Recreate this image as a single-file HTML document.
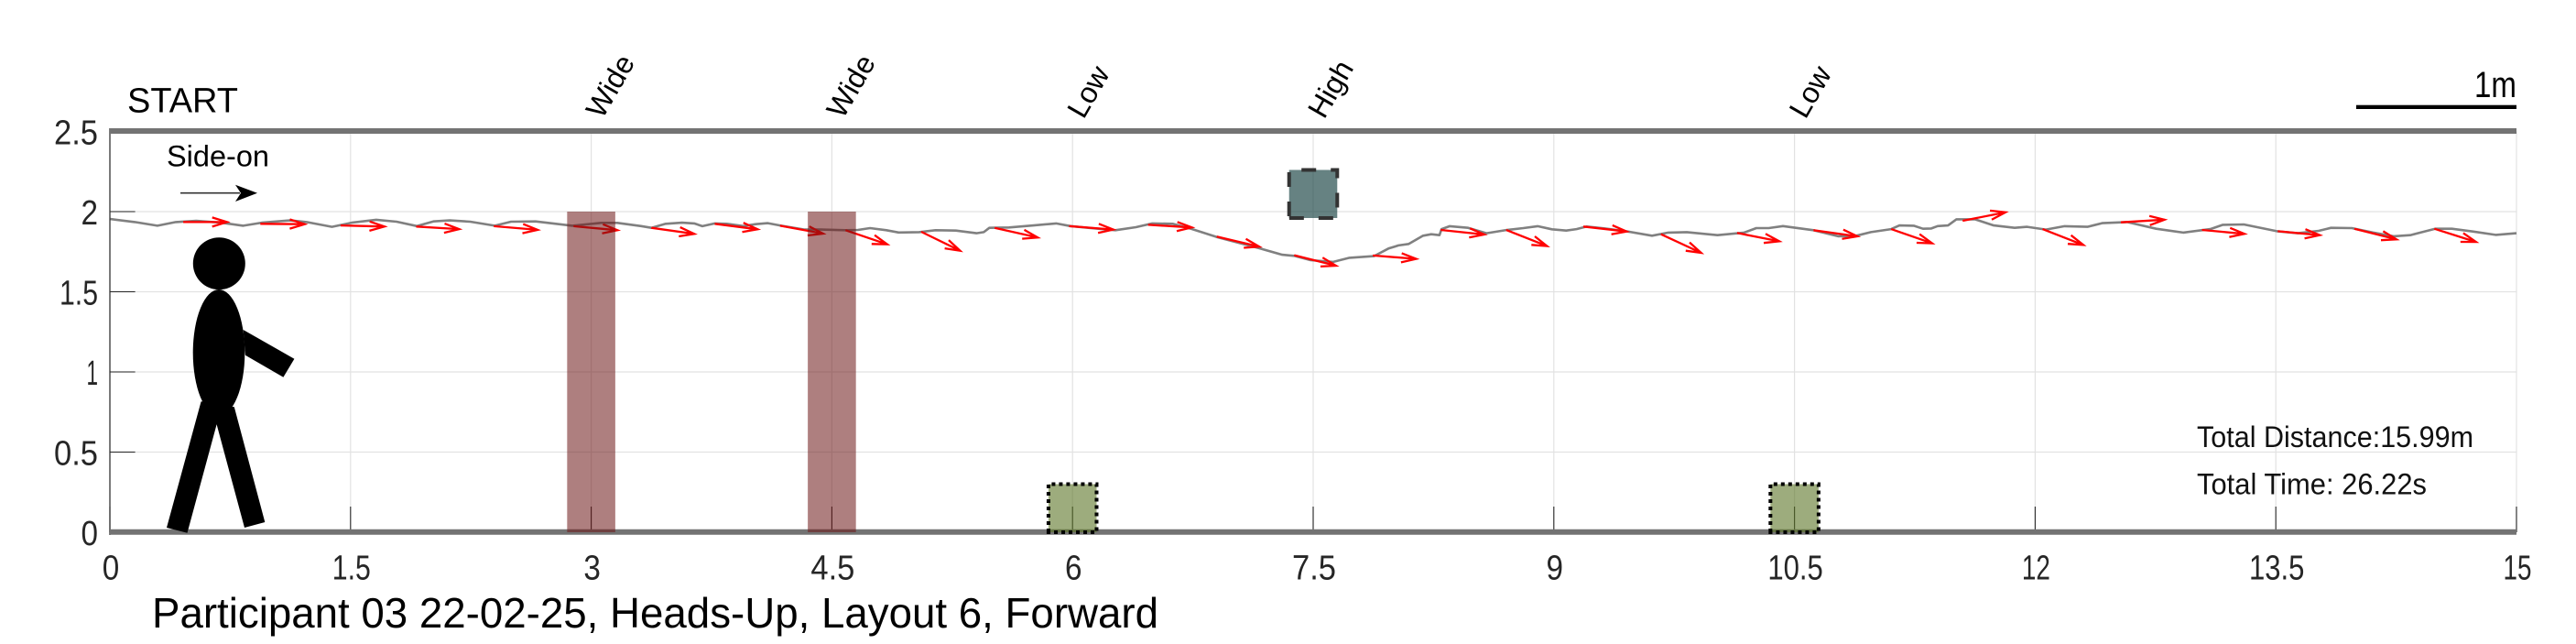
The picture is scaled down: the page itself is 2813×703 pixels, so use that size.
<!DOCTYPE html>
<html lang="en">
<head>
<meta charset="utf-8">
<title>Participant 03 walking path</title>
<style>
  html, body { margin: 0; padding: 0; background: #fff; }
  svg { display: block; font-family: "Liberation Sans", sans-serif; }
</style>
</head>
<body>
<svg id="chart" xmlns="http://www.w3.org/2000/svg" width="2813" height="703" viewBox="0 0 2813 703">
  <rect x="0" y="0" width="2813" height="703" fill="#ffffff"/>
  <g id="grid"></g>
  <g id="series"></g>
  <g id="axes"></g>
  <g id="obstacles"></g>
  <g id="person" fill="#000000">
    <circle cx="239.3" cy="287.7" r="28.5"/>
    <ellipse cx="239" cy="385" rx="28.3" ry="69"/>
    <polygon points="219.6,438.3 182,576 204.5,581.7 236.6,463.3 245,440"/>
    <polygon points="255.8,444.3 289.3,570 267,576 236.6,463.3 230,440"/>
    <polygon points="265.6,360 321.4,391.7 309.4,411.7 267.9,387.7"/>
  </g>
  <g id="annotations">
    <text x="139" y="122.7" font-size="38" textLength="121" lengthAdjust="spacingAndGlyphs" fill="#000">START</text>
    <text x="182" y="181.7" font-size="32" textLength="112" lengthAdjust="spacingAndGlyphs" fill="#000">Side-on</text>
    <line x1="197" y1="210.7" x2="262" y2="210.7" stroke="#333" stroke-width="1.6"/>
    <polygon points="281,210.7 257,201.7 263,210.7 257,220" fill="#000"/>
    <text x="2702" y="106" font-size="40" textLength="46" lengthAdjust="spacingAndGlyphs" fill="#000">1m</text>
    <rect x="2573" y="114.7" width="175" height="4.3" fill="#000"/>
    <text x="2399" y="488" font-size="32" textLength="302" lengthAdjust="spacingAndGlyphs" fill="#111">Total Distance:15.99m</text>
    <text x="2399" y="539.3" font-size="32" textLength="251" lengthAdjust="spacingAndGlyphs" fill="#111">Total Time: 26.22s</text>
    <text x="166" y="685" font-size="46" textLength="1099" lengthAdjust="spacingAndGlyphs" fill="#000">Participant 03 22-02-25, Heads-Up, Layout 6, Forward</text>
  </g>
</svg>
<script>
const xTickValues = [0, 1.5, 3, 4.5, 6, 7.5, 9, 10.5, 12, 13.5, 15];
const xTickLabels = ["0", "1.5", "3", "4.5", "6", "7.5", "9", "10.5", "12", "13.5", "15"];
const yTickValues = [0, 0.5, 1, 1.5, 2, 2.5];
const yTickLabels = ["0", "0.5", "1", "1.5", "2", "2.5"];

const pathX = [0.003,0.156,0.296,0.411,0.538,0.691,0.831,0.946,1.124,1.226,1.384,1.507,1.660,1.787,1.914,2.016,2.118,2.246,2.399,2.500,2.653,2.883,3.061,3.163,3.311,3.375,3.464,3.566,3.642,3.693,3.770,3.846,3.948,4.025,4.101,4.177,4.330,4.432,4.585,4.662,4.738,4.840,4.916,5.044,5.146,5.273,5.401,5.447,5.482,5.604,5.757,5.898,5.987,6.114,6.267,6.395,6.497,6.624,6.739,6.904,7.159,7.307,7.382,7.484,7.625,7.726,7.879,7.969,8.032,8.096,8.185,8.236,8.287,8.300,8.351,8.466,8.580,8.708,8.810,8.899,8.988,9.077,9.141,9.205,9.319,9.459,9.612,9.714,9.829,10.020,10.186,10.262,10.339,10.428,10.619,10.772,10.886,10.976,11.103,11.154,11.243,11.301,11.353,11.392,11.457,11.509,11.625,11.742,11.872,11.950,12.067,12.183,12.326,12.417,12.573,12.754,12.923,13.092,13.170,13.300,13.507,13.637,13.767,13.844,13.974,14.104,14.234,14.338,14.493,14.597,14.727,14.870,15.0];
const pathY = [1.954,1.935,1.912,1.935,1.943,1.931,1.912,1.931,1.945,1.935,1.905,1.931,1.949,1.937,1.910,1.939,1.945,1.937,1.912,1.937,1.939,1.912,1.930,1.930,1.910,1.899,1.924,1.931,1.926,1.909,1.926,1.924,1.910,1.922,1.928,1.914,1.888,1.888,1.884,1.886,1.897,1.884,1.870,1.872,1.884,1.882,1.865,1.872,1.899,1.901,1.914,1.926,1.910,1.897,1.884,1.903,1.926,1.924,1.893,1.840,1.773,1.731,1.724,1.697,1.686,1.712,1.722,1.770,1.789,1.798,1.850,1.859,1.853,1.891,1.909,1.899,1.865,1.886,1.897,1.909,1.890,1.882,1.891,1.907,1.895,1.876,1.850,1.869,1.872,1.853,1.869,1.897,1.897,1.910,1.884,1.846,1.850,1.872,1.891,1.914,1.912,1.893,1.895,1.910,1.914,1.952,1.952,1.914,1.899,1.905,1.888,1.909,1.905,1.928,1.935,1.893,1.869,1.891,1.918,1.920,1.878,1.865,1.880,1.899,1.897,1.870,1.846,1.853,1.893,1.893,1.876,1.855,1.865];

const arrowX = [0.457,0.938,1.438,1.909,2.393,2.890,3.375,3.770,4.177,4.585,5.057,5.515,5.979,6.471,6.899,7.382,7.872,8.295,8.703,9.184,9.668,10.142,10.619,11.103,11.548,12.046,12.534,13.040,13.512,13.990,14.488];
const arrowY = [1.935,1.924,1.914,1.907,1.909,1.909,1.899,1.924,1.912,1.884,1.874,1.899,1.910,1.918,1.844,1.728,1.726,1.886,1.886,1.907,1.859,1.867,1.884,1.891,1.943,1.891,1.933,1.886,1.878,1.893,1.893];
const arrowDX = [0.273,0.276,0.273,0.268,0.273,0.273,0.267,0.267,0.268,0.260,0.242,0.268,0.275,0.273,0.265,0.260,0.270,0.272,0.254,0.270,0.250,0.263,0.273,0.255,0.267,0.254,0.272,0.265,0.262,0.262,0.260];
const arrowDY = [0,-0.002,-0.007,-0.016,-0.023,-0.025,-0.038,-0.034,-0.049,-0.088,-0.118,-0.061,-0.022,-0.017,-0.063,-0.065,-0.021,-0.029,-0.101,-0.031,-0.116,-0.052,-0.038,-0.089,0.053,-0.099,0.017,-0.025,-0.025,-0.066,-0.082];

const obstacleCentres = [3, 4.5, 6, 7.5, 10.5];
const obstacleLabels = ["Wide", "Wide", "Low", "High", "Low"];
const obstacleBottoms = [0, 0, 0, 1.96, 0];
const obstacleTops = [2, 2, 0.3, 2.26, 0.3];
const obstacleHalfWidth = 0.15;

const NS = "http://www.w3.org/2000/svg";
function sx(v) { return 120 + v * 175.2; }
function sy(v) { return 581 - v * 175; }
function make(tag, attrs, parent) {
  const el = document.createElementNS(NS, tag);
  for (const k in attrs) el.setAttribute(k, attrs[k]);
  parent.appendChild(el);
  return el;
}
function labelWidth(s) {
  let w = 0;
  for (const c of s) w += c === "1" ? 12.5 : c === "." ? 11 : 18.5;
  return w;
}

const gridG = document.getElementById("grid");
const seriesG = document.getElementById("series");
const axesG = document.getElementById("axes");
const obstaclesG = document.getElementById("obstacles");

xTickValues.forEach(function (v) {
  const g = make("line", { x1: sx(v), x2: sx(v), y1: sy(2.5), y2: sy(0), stroke: "#e2e2e2", "stroke-width": 1.2 }, gridG);
  
  
});
yTickValues.forEach(function (v) {
  const g = make("line", { x1: sx(0), x2: sx(15), y1: sy(v), y2: sy(v), stroke: "#e2e2e2", "stroke-width": 1.3 }, gridG);
  
  
});

const walkPoints = pathX.map(function (x, i) { return sx(x).toFixed(1) + "," + sy(pathY[i]).toFixed(1); }).join(" ");
const walkLine = make("polyline", { points: walkPoints, fill: "none", stroke: "#808080", "stroke-width": 2.6, "stroke-linejoin": "round" }, seriesG);



arrowX.forEach(function (x, i) {
  const x1 = sx(x), y1 = sy(arrowY[i]);
  const x2 = sx(x + arrowDX[i]), y2 = sy(arrowY[i] + arrowDY[i]);
  const a = Math.atan2(y2 - y1, x2 - x1);
  const len = 17, spread = 0.3;
  const bx1 = x2 - len * Math.cos(a - spread), by1 = y2 - len * Math.sin(a - spread);
  const bx2 = x2 - len * Math.cos(a + spread), by2 = y2 - len * Math.sin(a + spread);
  const d = "M" + x1.toFixed(1) + " " + y1.toFixed(1) + "L" + x2.toFixed(1) + " " + y2.toFixed(1) +
            "M" + bx1.toFixed(1) + " " + by1.toFixed(1) + "L" + x2.toFixed(1) + " " + y2.toFixed(1) +
            "L" + bx2.toFixed(1) + " " + by2.toFixed(1);
  const arrow = make("path", { d: d, fill: "none", stroke: "#ff0000", "stroke-width": 2.3 }, seriesG);
  
  
});

const axisLeft = make("line", { x1: sx(0), x2: sx(0), y1: 140, y2: 584, stroke: "#262626", "stroke-width": 1.2 }, axesG);



xTickValues.forEach(function (v, i) {
  const t = make("line", { x1: sx(v), x2: sx(v), y1: sy(0) - 28, y2: sy(0), stroke: "#262626", "stroke-width": 1.1 }, axesG);
  
  
  const s = xTickLabels[i];
  const l = make("text", { x: sx(v) + 1, y: 632.5, "font-size": 38, "text-anchor": "middle", fill: "#262626", textLength: labelWidth(s), lengthAdjust: "spacingAndGlyphs" }, axesG);
  l.textContent = s;
  
  
});
yTickValues.forEach(function (v, i) {
  const t = make("line", { x1: sx(0), x2: sx(0) + 27.6, y1: sy(v), y2: sy(v), stroke: "#262626", "stroke-width": 1.1 }, axesG);
  
  
  const s = yTickLabels[i];
  const l = make("text", { x: 107, y: sy(v) + 14, "font-size": 38, "text-anchor": "end", fill: "#262626", textLength: labelWidth(s), lengthAdjust: "spacingAndGlyphs" }, axesG);
  l.textContent = s;
  
  
});

const topWall = make("line", { x1: sx(0), x2: sx(15), y1: 143, y2: 143, stroke: "#737373", "stroke-width": 6 }, axesG);


const bottomWall = make("line", { x1: sx(0), x2: sx(15), y1: 580.8, y2: 580.8, stroke: "#737373", "stroke-width": 6 }, axesG);



obstacleCentres.forEach(function (c, i) {
  const x0 = sx(c - obstacleHalfWidth), x1 = sx(c + obstacleHalfWidth);
  const y0 = sy(obstacleBottoms[i]), y1 = sy(obstacleTops[i]);
  const kind = obstacleLabels[i];
  const fill = kind === "Wide" ? "rgba(108,22,22,0.55)" : kind === "High" ? "rgba(30,71,71,0.68)" : "rgba(92,117,38,0.6)";
  const box = make("rect", { x: x0, y: y1, width: x1 - x0, height: y0 - y1, fill: fill }, obstaclesG);
  
  
  if (kind !== "Wide") {
    const outline = "M" + x0 + " " + y0 + "L" + x0 + " " + y1 + "L" + x1 + " " + y1 + "L" + x1 + " " + y0 + "Z";
    const border = make("path", {
      d: outline, fill: "none",
      stroke: kind === "High" ? "#333333" : "#000000",
      "stroke-width": 4,
      "stroke-dasharray": kind === "High" ? "16 16" : "4 4",
      "stroke-dashoffset": kind === "High" ? 30 : 0
    }, obstaclesG);
    
    
  }
  const ax = sx(c) + 12, ay = 131;
  const label = make("text", { x: ax, y: ay, "font-size": 32, fill: "#000", transform: "rotate(-60 " + ax + " " + ay + ")" }, obstaclesG);
  label.textContent = kind;
  
  
});
</script>
</body>
</html>
